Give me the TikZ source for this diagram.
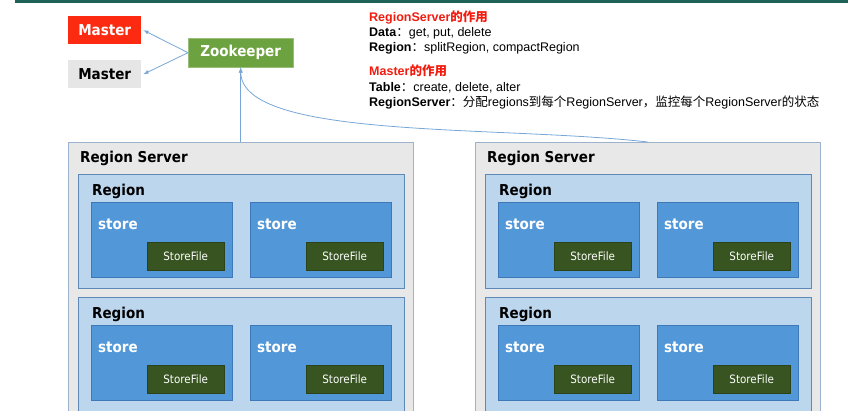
\documentclass[tikz,border=0pt]{standalone}
\usepackage{fontspec}
\setmainfont{Liberation Sans}
\newfontfamily\boxfont{DejaVu Sans Condensed}
\newfontfamily\zhfont{Noto Sans CJK SC}
\usetikzlibrary{positioning}

\definecolor{masterred}{HTML}{FB2A10}
\definecolor{lightgray}{HTML}{E6E6E6}
\definecolor{zkgreen}{HTML}{6CA23F}
\definecolor{linkblue}{HTML}{78A6D6}
\definecolor{serverfill}{HTML}{E8E8E8}
\definecolor{serverline}{HTML}{9DB2CC}
\definecolor{regionfill}{HTML}{BCD6EE}
\definecolor{regionline}{HTML}{5E88B6}
\definecolor{storefill}{HTML}{5297D8}
\definecolor{storeline}{HTML}{3F78B6}
\definecolor{filefill}{HTML}{375421}
\definecolor{headbar}{HTML}{1E6258}
\definecolor{notered}{HTML}{F21B0E}

\newcommand{\zh}[1]{{\zhfont #1}}

\tikzset{
  box/.style={rectangle, inner sep=0pt, anchor=north west},
  bigtext/.style={font=\boxfont\bfseries\fontsize{15}{15}\selectfont},
  masterbox/.style={box, bigtext, minimum width=73pt, minimum height=28pt},
  zkbox/.style={box, bigtext, fill=zkgreen, draw=zkgreen!70!white, text=white, minimum width=105pt, minimum height=29pt},
  serverbox/.style={box, fill=serverfill, draw=serverline, minimum width=345pt, minimum height=290pt},
  regionbox/.style={box, fill=regionfill, draw=regionline, minimum width=326pt, minimum height=114pt},
  storebox/.style={box, fill=storefill, draw=storeline, minimum width=141pt, minimum height=75pt},
  filebox/.style={box, fill=filefill, draw=filefill!80!black, text=white, minimum width=77pt, minimum height=28pt,
    font=\boxfont\fontsize{11.5}{11.5}\selectfont},
  boxtitle/.style={bigtext, anchor=base west, inner sep=0pt},
  note/.style={anchor=base west, inner sep=0pt, font=\fontsize{12.5}{15}\selectfont},
  notetitle/.style={note, text=notered, font=\bfseries\fontsize{12.5}{15}\selectfont},
  link/.style={->, draw=linkblue, line width=0.8pt}
}

\begin{document}
\begin{tikzpicture}[x=1pt, y=-1pt, >=latex]
  \path[use as bounding box, clip] (0,0) rectangle (848,410);
  \fill[headbar] (15,0) rectangle (848,3);

  % Masters and Zookeeper
  \node[masterbox, fill=masterred, text=white] (m1) at (68,16) {Master};
  \node[masterbox, fill=lightgray, text=black] (m2) at (68,60) {Master};
  \node[zkbox] (zk) at (188,38) {Zookeeper};

  % Region servers
  \foreach \s/\sx in {1/68, 2/475} {
    \node[serverbox] (rs\s) at (\sx,142) {};
    \node[boxtitle] at ([shift={(12,20)}]rs\s.north west) {Region Server};
    \foreach \r/\ry in {1/32, 2/155} {
      \node[regionbox] (rg\s\r) at ([shift={(10,\ry)}]rs\s.north west) {};
      \node[boxtitle] at ([shift={(14,21)}]rg\s\r.north west) {Region};
      \foreach \t/\tx in {1/13, 2/172} {
        \node[storebox] (st\s\r\t) at ([shift={(\tx,28)}]rg\s\r.north west) {};
        \node[boxtitle, text=white] at ([shift={(7,27)}]st\s\r\t.north west) {store};
        \node[filebox] (sf\s\r\t) at ([shift={(56,40)}]st\s\r\t.north west) {StoreFile};
      }
    }
  }

  % Links
  \draw[link] (zk.west) -- ([xshift=2pt]m1.east);
  \draw[link] (zk.west) -- ([xshift=2pt]m2.east);
  \draw[link] (zk.south |- rs1.north) -- (zk.south);
  \draw[link] (rs2.north) .. controls (500,125) and (241,140) .. (zk.south);

  % Notes
  \node[notetitle] (n1) at (369,21) {RegionServer\zh{的作用}};
  \node[note] (n2) at (369,36.5) {\textbf{Data}\zh{：}get, put, delete};
  \node[note] (n3) at (369,51.5) {\textbf{Region}\zh{：}splitRegion, compactRegion};
  \node[notetitle] (n4) at (369,75) {Master\zh{的作用}};
  \node[note] (n5) at (369,91) {\textbf{Table}\zh{：}create, delete, alter};
  \node[note] (n6) at (369,106) {\textbf{RegionServer}\zh{：}\zh{分配}regions\zh{到每个}RegionServer\zh{，监控每个}RegionServer\zh{的状态}};
\end{tikzpicture}
\end{document}
